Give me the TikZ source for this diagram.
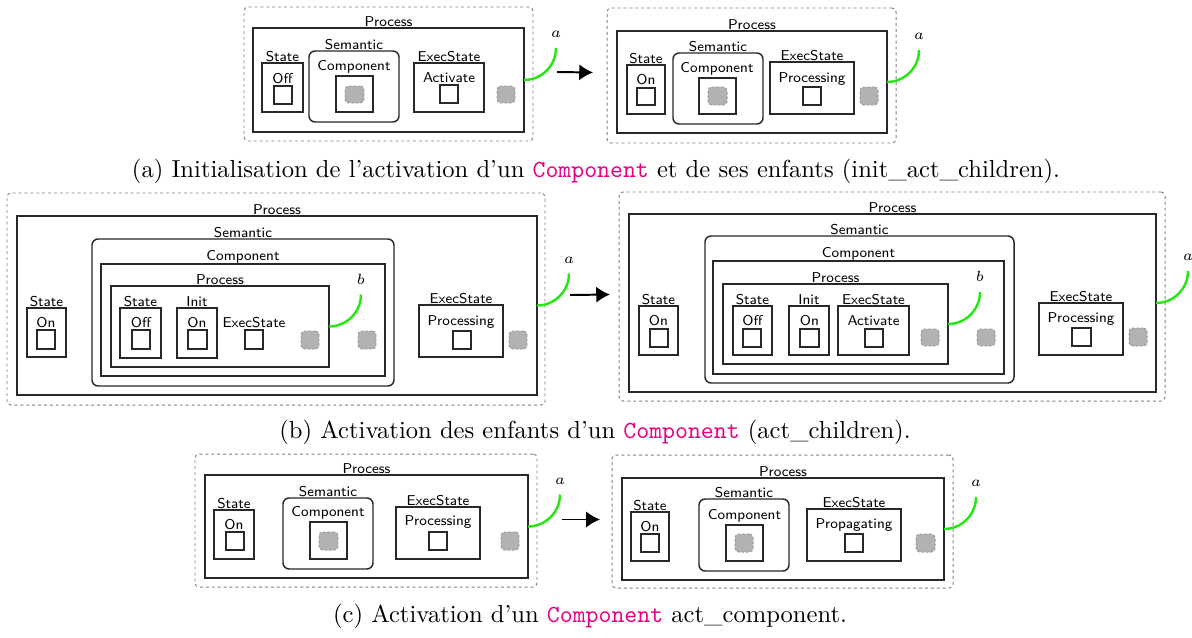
\documentclass[tikz,border=0pt]{standalone}
\usepackage{fontspec}
\usetikzlibrary{arrows.meta,fit,calc}
\definecolor{grn}{RGB}{40,230,20}
\definecolor{mag}{RGB}{230,0,130}
\definecolor{gsqc}{RGB}{178,178,178}
\definecolor{lnc}{RGB}{40,40,40}
\tikzset{
  zb/.style={inner sep=0pt, outer sep=0pt},
  lbl/.style={font=\fontsize{5.8}{7}\selectfont\sffamily, inner sep=0pt, outer sep=0pt},
  boxlbl/.style={label={[lbl, label distance=0.5pt]above:#1}},
  outerbox/.style={zb, draw=gray, dash pattern=on 1.2pt off 1.2pt, line width=0.4pt, rounded corners=1.6pt},
  procbox/.style={zb, draw=lnc, line width=0.8pt, boxlbl=#1},
  plainbox/.style={zb, draw=lnc, line width=0.55pt, boxlbl=#1},
  nolblbox/.style={zb, draw=lnc, line width=0.55pt},
  rbox/.style={zb, draw=lnc, line width=0.6pt, rounded corners=2.5pt, boxlbl=#1},
  sqbox/.style={zb, draw=lnc, line width=0.5pt},
  gsq/.style={zb, fill=gsqc, draw=gray!80, dash pattern=on 1pt off 0.8pt, line width=0.4pt, rounded corners=1.5pt},
  garc/.style={draw=grn, line width=1pt},
  arr/.style={-{Latex[length=5.6pt,width=6.6pt]}, line width=0.8pt, black},
  captxt/.style={font=\fontsize{10}{12}\selectfont\rmfamily, inner sep=0pt, anchor=base}
}
\newcommand\bx[6]{\node[#2, fit={(#3,#4) (#5,#6)}] (#1) {};}
\newcommand\tx[4]{\node[lbl, anchor=base] (#1) at ($(#2,#3)+(0,-2)$) {#4};}
\newcommand\garcto[3]{\draw[garc] (#1.east) arc[start angle=90,end angle=0,radius=32] node[lbl, anchor=base, yshift=4.1pt] (#2) {$#3$};}
\newcommand\cmp{\texttt{\color{mag}Component}}
\begin{document}
\begin{tikzpicture}[x=0.4065pt,y=-0.4065pt]
\useasboundingbox (0,0) rectangle (1192,637);
% ---------------- row (a) left
\bx{dA1}{outerbox}{244}{7}{533}{141}
\bx{pA1}{procbox=Process}{253}{28}{524}{132}
\bx{stA1}{plainbox=State}{262}{63}{303}{112}
\tx{tstA1}{282.5}{85}{Off}
\bx{qstA1}{sqbox}{274}{86}{292}{104}
\bx{smA1}{rbox=Semantic}{309}{51}{399}{122}
\tx{tcA1}{354}{72}{Component}
\bx{cA1}{nolblbox}{336}{76}{373}{112}
\bx{gcA1}{gsq}{345}{86}{364}{103}
\bx{exA1}{plainbox=ExecState}{414}{63}{484}{112}
\tx{texA1}{449}{84}{Activate}
\bx{qexA1}{sqbox}{440}{85}{458}{103}
\bx{gA1}{gsq}{497}{86}{515}{103}
\garcto{pA1}{aA1}{a}
% ---------------- row (a) right
\bx{dA2}{outerbox}{607}{8}{896}{143}
\bx{pA2}{procbox=Process}{617}{31}{887}{133}
\bx{stA2}{plainbox=State}{627}{65}{665}{114}
\tx{tstA2}{646}{86}{On}
\bx{qstA2}{sqbox}{637}{88}{655}{105}
\bx{smA2}{rbox=Semantic}{673}{53}{763}{124}
\tx{tcA2}{717}{74}{Component}
\bx{cA2}{nolblbox}{699}{78}{736}{114}
\bx{gcA2}{gsq}{708}{87}{727}{105}
\bx{exA2}{plainbox=ExecState}{770}{62}{854}{114}
\tx{texA2}{812}{84}{Processing}
\bx{qexA2}{sqbox}{803}{87}{821}{105}
\bx{gA2}{gsq}{860}{87}{878}{105}
\garcto{pA2}{aA2}{a}
\draw[arr] ($(dA1.east)+(24,-2)$) -- ($(dA2.west)+(-14,-3)$);
\node[captxt] (capA) at (596,177) {(a) Initialisation de l'activation d'un \cmp{} et de ses enfants (init\_act\_children).};
% ---------------- row (b) left
\bx{dB1}{outerbox}{7}{193}{545}{405}
\bx{pB1}{procbox=Process}{17}{216}{537}{395}
\bx{smB1}{rbox=Semantic}{92}{239}{394}{386}
\bx{cB1}{plainbox=Component}{101}{264}{385}{376}
\bx{ipB1}{plainbox=Process}{111}{286}{329}{367}
\bx{istB1}{plainbox=State}{120}{308}{161}{358}
\tx{tistB1}{141}{329}{Off}
\bx{qistB1}{sqbox}{132}{330}{150}{349}
\bx{inB1}{plainbox=Init}{177}{308}{217}{358}
\tx{tinB1}{197}{329}{On}
\bx{qinB1}{sqbox}{188}{330}{207}{349}
\tx{tiexB1}{254}{329}{ExecState}
\bx{qiexB1}{sqbox}{245}{330}{263}{349}
\bx{giB1}{gsq}{301}{331}{319}{349}
\garcto{ipB1}{bB1}{b}
\bx{gcB1}{gsq}{358}{331}{376}{349}
\bx{ostB1}{plainbox=State}{27}{308}{66}{357}
\tx{tostB1}{46}{329}{On}
\bx{qostB1}{sqbox}{37}{330}{55}{349}
\bx{oexB1}{plainbox=ExecState}{419}{305}{503}{357}
\tx{toexB1}{461}{327}{Processing}
\bx{qoexB1}{sqbox}{453}{331}{471}{349}
\bx{gB1}{gsq}{509}{331}{527}{349}
\garcto{pB1}{aB1}{a}
% ---------------- row (b) right
\bx{dB2}{outerbox}{619}{192}{1165}{401}
\bx{pB2}{procbox=Process}{629}{214}{1156}{392}
\bx{smB2}{rbox=Semantic}{705}{236}{1014}{383}
\bx{cB2}{plainbox=Component}{713}{261}{1004}{374}
\bx{ipB2}{plainbox=Process}{723}{284}{948}{364}
\bx{istB2}{plainbox=State}{733}{306}{772}{355}
\tx{tistB2}{752.5}{327}{Off}
\bx{qistB2}{sqbox}{743}{329}{761}{347}
\bx{inB2}{plainbox=Init}{789}{306}{829}{355}
\tx{tinB2}{809.5}{327}{On}
\bx{qinB2}{sqbox}{800}{329}{819}{347}
\bx{iexB2}{plainbox=ExecState}{838}{306}{909}{355}
\tx{tiexB2}{873.5}{327}{Activate}
\bx{qiexB2}{sqbox}{865}{329}{883}{347}
\bx{giB2}{gsq}{921}{329}{939}{346}
\garcto{ipB2}{bB2}{b}
\bx{gcB2}{gsq}{977}{329}{995}{346}
\bx{ostB2}{plainbox=State}{639}{306}{678}{355}
\tx{tostB2}{658.5}{327}{On}
\bx{qostB2}{sqbox}{650}{329}{668}{347}
\bx{oexB2}{plainbox=ExecState}{1039}{303}{1123}{355}
\tx{toexB2}{1081}{324}{Processing}
\bx{qoexB2}{sqbox}{1072}{328}{1091}{346}
\bx{gB2}{gsq}{1129}{328}{1147}{346}
\garcto{pB2}{aB2}{a}
\draw[arr] ($(dB1.east)+(25,-4)$) -- ($(dB2.west)+(-9,-2)$);
\node[captxt] (capB) at (595,438) {(b) Activation des enfants d'un \cmp{} (act\_children).};
% ---------------- row (c) left
\bx{dC1}{outerbox}{195}{454}{537}{587}
\bx{pC1}{procbox=Process}{205}{475}{528}{578}
\bx{stC1}{plainbox=State}{214}{510}{254}{559}
\tx{tstC1}{234}{531}{On}
\bx{qstC1}{sqbox}{226}{532}{244}{550}
\bx{smC1}{rbox=Semantic}{283}{498}{373}{569}
\tx{tcC1}{328}{518}{Component}
\bx{cC1}{nolblbox}{310}{522}{347}{559}
\bx{gcC1}{gsq}{319}{532}{338}{550}
\bx{exC1}{plainbox=ExecState}{396}{507}{480}{559}
\tx{texC1}{438}{527}{Processing}
\bx{qexC1}{sqbox}{429}{532}{447}{550}
\bx{gC1}{gsq}{501}{532}{519}{550}
\garcto{pC1}{aC1}{a}
% ---------------- row (c) right
\bx{dC2}{outerbox}{612}{455}{953}{588}
\bx{pC2}{procbox=Process}{622}{478}{944}{580}
\bx{stC2}{plainbox=State}{631}{512}{669}{561}
\tx{tstC2}{650}{533}{On}
\bx{qstC2}{sqbox}{641}{534}{659}{552}
\bx{smC2}{rbox=Semantic}{699}{499}{789}{571}
\tx{tcC2}{744.5}{521}{Component}
\bx{cC2}{nolblbox}{726}{525}{763}{561}
\bx{gcC2}{gsq}{735}{534}{753}{552}
\bx{exC2}{plainbox=ExecState}{807}{509}{901}{561}
\tx{texC2}{854}{530}{Propagating}
\bx{qexC2}{sqbox}{845}{534}{863}{552}
\bx{gC2}{gsq}{916}{534}{935}{552}
\garcto{pC2}{aC2}{a}
\draw[arr] ($(dC1.east)+(25,-1)$) -- ($(dC2.west)+(-12,-2)$);
\node[captxt] (capC) at (590,622) {(c) Activation d'un \cmp{} act\_component.};
\end{tikzpicture}
\end{document}
